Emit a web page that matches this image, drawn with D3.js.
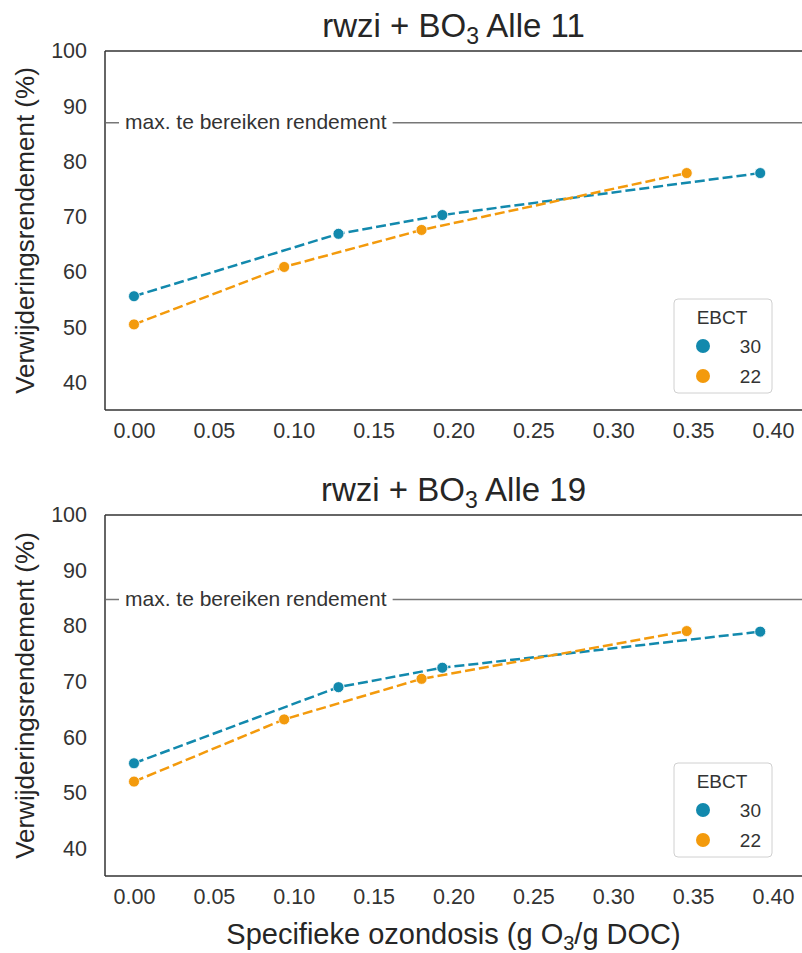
<!DOCTYPE html>
<html><head><meta charset="utf-8">
<script src="https://cdn.jsdelivr.net/npm/d3@7"></script>
<style>
body{margin:0;background:#fff;}
text{font-family:"Liberation Sans",Arial,sans-serif;fill:#262626;}
</style></head>
<body><svg id="c" width="802" height="953"></svg>
<script>
const titles = ["Alle 11", "Alle 19"];
const series = ["30", "22"];
const colors = ["#1289ad", "#f39a0c"];
const xTicks = [0.00,0.05,0.10,0.15,0.20,0.25,0.30,0.35,0.40];
const yTicks = [40,50,60,70,80,90,100];
const maxRendement = [87, 84.8];
// panel 1
const x30 = [0.000, 0.128, 0.193, 0.392];
const y30_p1 = [55.6, 66.9, 70.3, 77.9];
const x22 = [0.000, 0.094, 0.180, 0.346];
const y22_p1 = [50.5, 60.9, 67.6, 77.9];
// panel 2
const y30_p2 = [55.3, 69.0, 72.5, 79.0];
const y22_p2 = [52.0, 63.2, 70.5, 79.1];

const panels = [
  {title: titles[0], top: 51, bottom: 410, maxv: maxRendement[0], s30: y30_p1, s22: y22_p1},
  {title: titles[1], top: 515, bottom: 876, maxv: maxRendement[1], s30: y30_p2, s22: y22_p2}
];
const svg = d3.select("#c");
const left = 105, right = 802;
const x = d3.scaleLinear().domain([0, 0.4]).range([134, 773]);
const FF = "Liberation Sans, Arial, sans-serif";

panels.forEach((p, pi) => {
  const y = d3.scaleLinear().domain([35, 100]).range([p.bottom, p.top]);
  const g = svg.append("g");
  const ya = d3.axisLeft(y).tickValues(yTicks).tickSize(0).tickPadding(18).tickFormat(d3.format("d"));
  const yg = g.append("g").attr("transform", `translate(${left},0)`).call(ya);
  yg.select(".domain").remove();
  yg.selectAll("text").style("font-size","21.5px").style("fill","#333").style("font-family",FF);
  const xa = d3.axisBottom(x).tickValues(xTicks).tickSize(0).tickPadding(13).tickFormat(d3.format(".2f"));
  const xg = g.append("g").attr("transform", `translate(0,${p.bottom})`).call(xa);
  xg.select(".domain").remove();
  xg.selectAll("text").style("font-size","21.5px").style("fill","#333").style("font-family",FF);
  // spines
  g.append("line").attr("x1",left).attr("x2",left).attr("y1",p.top).attr("y2",p.bottom).attr("stroke","#333").attr("stroke-width",1.5);
  g.append("line").attr("x1",left).attr("x2",right).attr("y1",p.top).attr("y2",p.top).attr("stroke","#333").attr("stroke-width",1.5);
  g.append("line").attr("x1",left).attr("x2",right).attr("y1",p.bottom).attr("y2",p.bottom).attr("stroke","#333").attr("stroke-width",1.5);
  // max line
  g.append("line").attr("x1",left+1).attr("x2",right).attr("y1",y(p.maxv)).attr("y2",y(p.maxv)).attr("stroke","#777").attr("stroke-width",1.5);
  const lg = g.append("g");
  const bg = lg.append("rect").attr("fill","#fff");
  const lbl = lg.append("text").attr("x",125).attr("y",y(p.maxv)).attr("dy","0.3em").style("font-size","21px").style("fill","#333").text("max. te bereiken rendement");
  const bb = lbl.node().getBBox();
  bg.attr("x",bb.x-6).attr("y",bb.y).attr("width",bb.width+12).attr("height",bb.height);
  // series
  const data = [{xs:x30, ys:p.s30, c:colors[0]}, {xs:x22, ys:p.s22, c:colors[1]}];
  const line = d3.line().x(d=>x(d[0])).y(d=>y(d[1]));
  data.forEach(s => {
    const pts = s.xs.map((v,i)=>[v, s.ys[i]]);
    g.append("path").attr("d", line(pts)).attr("fill","none").attr("stroke",s.c).attr("stroke-width",2.5).attr("stroke-dasharray","10,4");
  });
  data.forEach(s => {
    const pts = s.xs.map((v,i)=>[v, s.ys[i]]);
    g.selectAll(null).data(pts).enter().append("circle").attr("cx",d=>x(d[0])).attr("cy",d=>y(d[1])).attr("r",5.5).attr("fill",s.c).attr("stroke","#fff").attr("stroke-width",0.8);
  });
  // title
  const t = g.append("text").attr("x",(left+right)/2).attr("y",p.top-14).attr("text-anchor","middle").style("font-size","33px").style("fill","#262626");
  t.append("tspan").text("rwzi + BO");
  t.append("tspan").attr("dy",7).style("font-size","23px").text("3");
  t.append("tspan").attr("dy",-7).text(" " + p.title);
  // y label
  g.append("text").attr("transform",`translate(34,${(p.top+p.bottom)/2}) rotate(-90)`).attr("text-anchor","middle").style("font-size","26px").text("Verwijderingsrendement (%)");
  // legend
  const lx = 674, ly = p.top + 248;
  g.append("rect").attr("x",lx).attr("y",ly).attr("width",98).attr("height",94).attr("rx",4).attr("fill","#fff").attr("stroke","#d0d0d0").attr("stroke-width",1);
  g.append("text").attr("x",lx+48).attr("y",ly+25).attr("text-anchor","middle").style("font-size","19px").style("fill","#333").text("EBCT");
  series.forEach((s,i) => {
    const cy = ly + 47 + i*30;
    g.append("circle").attr("cx",lx+29).attr("cy",cy).attr("r",7).attr("fill",colors[i]);
    g.append("text").attr("x",lx+87).attr("y",cy).attr("dy","0.35em").attr("text-anchor","end").style("font-size","19px").style("fill","#333").text(s);
  });
});
// x label
const xl = svg.append("text").attr("x",(left+right)/2).attr("y",944).attr("text-anchor","middle").style("font-size","29px");
xl.append("tspan").text("Specifieke ozondosis (g O");
xl.append("tspan").attr("dy",6).style("font-size","20px").text("3");
xl.append("tspan").attr("dy",-6).text("/g DOC)");
</script></body></html>
